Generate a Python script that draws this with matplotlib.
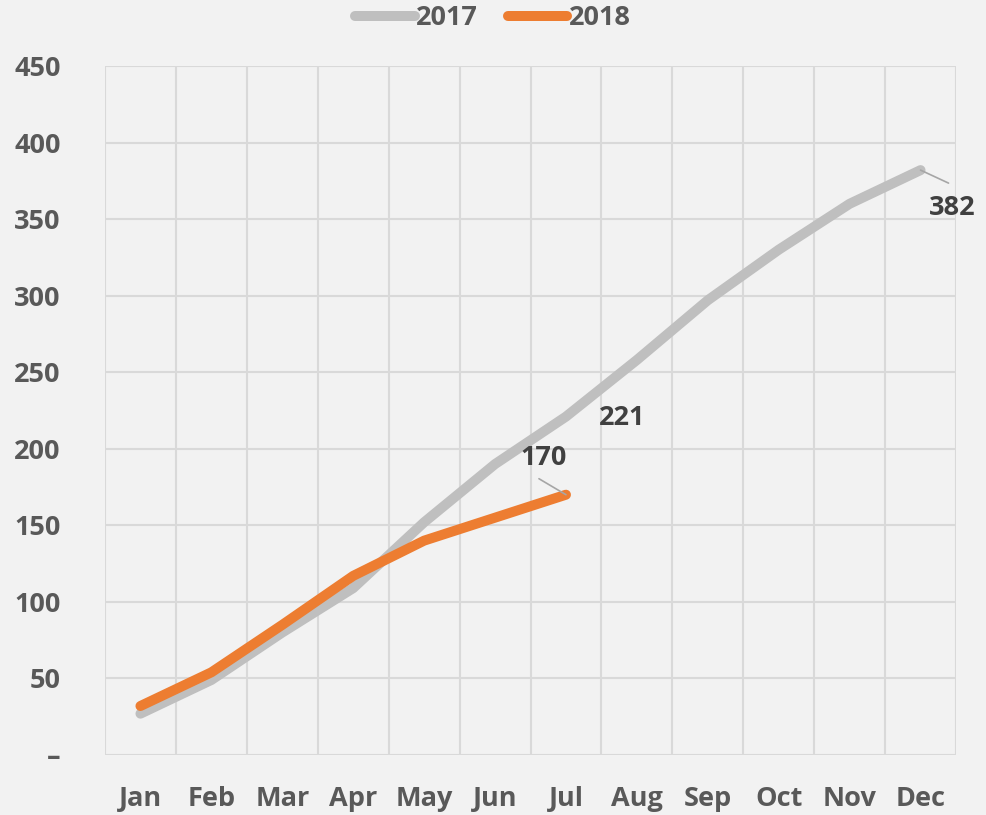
import matplotlib
matplotlib.use("Agg")
import matplotlib.pyplot as plt

months = ["Jan", "Feb", "Mar", "Apr", "May", "Jun", "Jul", "Aug", "Sep", "Oct", "Nov", "Dec"]
sales_2017 = [27, 49, 80, 109, 152, 190, 221, 258, 297, 330, 360, 382]
sales_2018 = [32, 54, 85, 117, 140, 155, 170]
y_ticks = [0, 50, 100, 150, 200, 250, 300, 350, 400, 450]
y_tick_labels = ["–", "50", "100", "150", "200", "250", "300", "350", "400", "450"]

plt.rcParams['font.family'] = ['Open Sans', 'DejaVu Sans']
plt.rcParams['font.weight'] = 'bold'

bg = "#f2f2f2"
fs = 19.5
fig = plt.figure(figsize=(9.86, 8.15), dpi=100, facecolor=bg)
ax = fig.add_axes([105/986, 1-755/815, (956-105)/986, (755-66)/815], facecolor=bg)

x17 = list(range(len(sales_2017)))
x18 = list(range(len(sales_2018)))
l17, = ax.plot(x17, sales_2017, color="#bfbfbf", lw=7.2, solid_capstyle='round', solid_joinstyle='round', label="2017", zorder=3)
l18, = ax.plot(x18, sales_2018, color="#ed7d31", lw=7.2, solid_capstyle='round', solid_joinstyle='round', label="2018", zorder=4)

ax.set_xlim(-0.5, len(months) - 0.5)
ax.set_ylim(0, 450)
ax.set_xticks(x17)
ax.set_xticklabels(months)
ax.set_xticks([i - 0.5 for i in range(len(months) + 1)], minor=True)
ax.set_yticks(y_ticks)
ax.set_yticklabels(y_tick_labels)
ax.grid(True, which='minor', axis='x', color="#d9d9d9", lw=1.5, zorder=0)
ax.grid(True, which='major', axis='y', color="#d9d9d9", lw=1.5, zorder=0)
for s in ax.spines.values():
    s.set_visible(False)
ax.tick_params(axis='both', which='both', length=0, labelsize=fs, colors="#595959")
ax.tick_params(axis='x', pad=22)
ax.tick_params(axis='y', pad=32)
for t in ax.get_yticklabels():
    t.set_ha('right')

lab_col = "#404040"
# 221 label (no leader)
ax.annotate(str(sales_2017[6]), xy=(6, sales_2017[6]), xytext=(56, -1), textcoords='offset pixels',
            ha='center', va='center', fontsize=fs, fontweight='bold', color=lab_col, zorder=6)
# 170 label with leader
ax.annotate(str(sales_2018[6]), xy=(6, sales_2018[6]), xytext=(-22, 37), textcoords='offset pixels',
            ha='center', va='center', fontsize=fs, fontweight='bold', color=lab_col, zorder=6)
ax.annotate("", xy=(6, sales_2018[6]), xytext=(-27, 16), textcoords='offset pixels',
            arrowprops=dict(arrowstyle='-', color="#a6a6a6", lw=1.2, shrinkA=0, shrinkB=0), zorder=6)
# 382 label with leader
ax.annotate(str(sales_2017[11]), xy=(11, sales_2017[11]), xytext=(32, -38), textcoords='offset pixels',
            ha='center', va='center', fontsize=fs, fontweight='bold', color=lab_col, zorder=6)
ax.annotate("", xy=(11, sales_2017[11]), xytext=(28, -13), textcoords='offset pixels',
            arrowprops=dict(arrowstyle='-', color="#a6a6a6", lw=1.2, shrinkA=0, shrinkB=0), zorder=6)

leg = fig.legend(handles=[l17, l18], loc='center', bbox_to_anchor=(0.5, 1 - 18/815), ncol=2,
                 frameon=False, handlelength=2.2, handletextpad=0.05, columnspacing=1.1,
                 borderpad=0, prop={'size': fs, 'weight': 'bold'})
for t in leg.get_texts():
    t.set_color("#595959")

fig.savefig("out.png", dpi=100, facecolor=bg)
